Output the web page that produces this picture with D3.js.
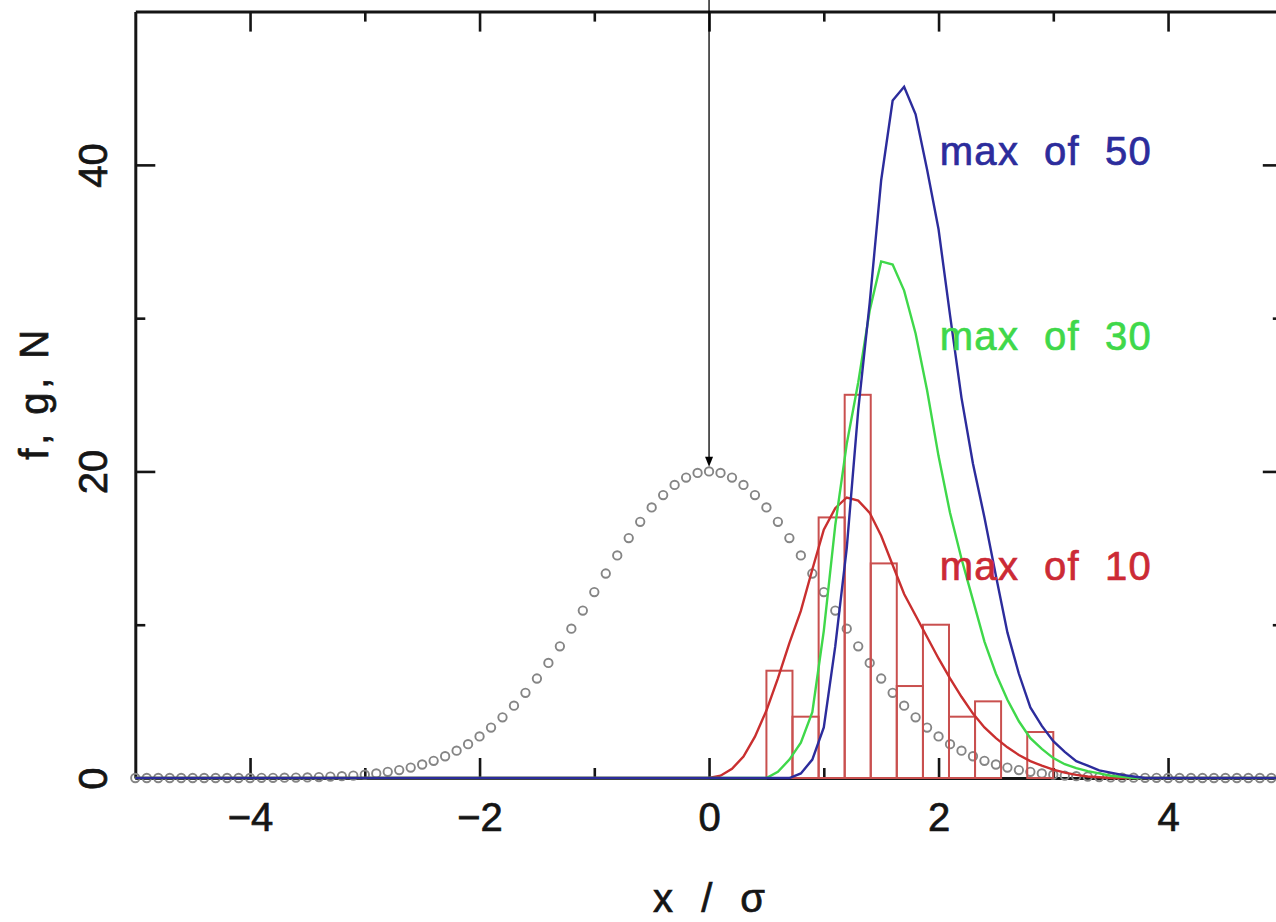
<!DOCTYPE html>
<html>
<head>
<meta charset="utf-8">
<script src="https://cdn.jsdelivr.net/npm/d3@7"></script>
<style>
  html, body { margin: 0; padding: 0; background: #fff; }
  svg { display: block; }
  text { font-family: "Liberation Sans", Arial, Helvetica, sans-serif; }
</style>
</head>
<body>
<svg id="chart" width="1276" height="922"></svg>
<script>
/* max-of-N gaussian plot: f (circles), g curves, N histogram */

// --- data ---
const xMajor = [-4, -2, 0, 2, 4];
const xMinor = [-3, -1, 1, 3];
const yMajor = [0, 20, 40];
const yMinor = [10, 30];

// unit gaussian, 20 at peak, sampled every 0.1 from -5 to 5
const gaussX = d3.range(-50, 51).map(i => i / 10);
const gaussY = [
  0, 0, 0, 0, 0, 0, 0, 0, 0, 0, 0,
  0.01, 0.01, 0.02, 0.03, 0.04, 0.06, 0.09, 0.12, 0.16, 0.22,
  0.30, 0.40, 0.52, 0.68, 0.88, 1.12, 1.42, 1.78, 2.21, 2.71,
  3.29, 3.96, 4.72, 5.56, 6.49, 7.51, 8.59, 9.74, 10.92, 12.13,
  13.34, 14.52, 15.65, 16.71, 17.65, 18.46, 19.12, 19.60, 19.90,
  20.00,
  19.90, 19.60, 19.12, 18.46, 17.65, 16.71, 15.65, 14.52, 13.34,
  12.13, 10.92, 9.74, 8.59, 7.51, 6.49, 5.56, 4.72, 3.96, 3.29,
  2.71, 2.21, 1.78, 1.42, 1.12, 0.88, 0.68, 0.52, 0.40, 0.30,
  0.22, 0.16, 0.12, 0.09, 0.06, 0.04, 0.03, 0.02, 0.01, 0.01,
  0, 0, 0, 0, 0, 0, 0, 0, 0, 0, 0
];

// histogram of max of 10
const binEdges = [0.5, 0.727, 0.955, 1.182, 1.409, 1.636, 1.864, 2.091, 2.318, 2.545, 2.773, 3.0];
const binCounts = [7, 4, 17, 25, 14, 6, 10, 4, 5, 0, 3];

// max of 10
const redX = [-5, 0.0, 0.1, 0.2, 0.3, 0.4, 0.5, 0.6, 0.7, 0.8, 0.9, 1.0, 1.1, 1.2, 1.3, 1.4, 1.5, 1.6, 1.7,
  1.8, 1.9, 2.0, 2.1, 2.2, 2.3, 2.4, 2.5, 2.6, 2.7, 2.8, 2.9, 3.0, 3.1, 3.2, 3.3, 3.4, 3.5, 5];
const redY = [0, 0, 0.15, 0.6, 1.4, 2.7, 4.4, 6.5, 8.8, 10.9, 13.6, 16.2, 17.6, 18.3, 18.1, 17.3, 15.8, 13.9, 12.0,
  10.6, 9.2, 7.8, 6.5, 5.3, 4.2, 3.3, 2.6, 2.0, 1.5, 1.1, 0.8, 0.55, 0.35, 0.2, 0.1, 0.05, 0, 0];

// max of 30
const greenX = [-5, 0.5, 0.6, 0.7, 0.8, 0.9, 1.0, 1.1, 1.2, 1.3, 1.4, 1.5, 1.6, 1.7, 1.8, 1.9, 2.0, 2.1,
  2.2, 2.3, 2.4, 2.5, 2.6, 2.7, 2.8, 2.9, 3.0, 3.1, 3.2, 3.3, 3.4, 3.5, 3.6, 3.7, 5];
const greenY = [0, 0, 0.4, 1.2, 2.3, 4.3, 9.6, 16.5, 21.8, 25.8, 30.5, 33.7, 33.5, 31.8, 29.0, 25.3, 21.0, 17.3,
  14.3, 11.6, 8.9, 6.8, 5.1, 3.7, 2.6, 1.9, 1.3, 0.9, 0.65, 0.45, 0.3, 0.15, 0.08, 0, 0];

// max of 50
const blueX = [-5, 0.7, 0.8, 0.9, 1.0, 1.1, 1.2, 1.3, 1.4, 1.5, 1.6, 1.7, 1.8, 1.9, 2.0, 2.1, 2.2, 2.3,
  2.4, 2.5, 2.6, 2.7, 2.8, 2.9, 3.0, 3.1, 3.2, 3.3, 3.4, 3.5, 3.6, 3.7, 3.8, 5];
const blueY = [0, 0, 0.3, 1.2, 3.3, 8.6, 15.0, 24.0, 31.0, 39.0, 44.2, 45.1, 43.3, 39.7, 35.8, 30.2, 24.8, 20.5,
  17.0, 13.2, 9.5, 6.8, 4.6, 3.4, 2.4, 1.7, 1.1, 0.8, 0.5, 0.35, 0.2, 0.1, 0, 0];

const labelTexts = ['max  of  50', 'max  of  30', 'max  of  10'];

// --- layout ---
const W = 1276, H = 922;
const COL_BLUE = '#2c2c9c', COL_GREEN = '#3fd84a', COL_RED = '#c92f2f', COL_HIST = '#c9504f';
const INK = '#151515';
const FS = 40;

const svg = d3.select('#chart');
const x = d3.scaleLinear().domain([-5, 5]).range([135.3, 1282.8]);
const y = d3.scaleLinear().domain([0, 50]).range([778, 11.6]);

svg.append('rect').attr('width', W).attr('height', H).attr('fill', '#fff');

const fmt = d => d < 0 ? '\u2212' + Math.abs(d) : String(d);

function styleAxis(g) {
  g.attr('font-family', '"Liberation Sans", Arial, sans-serif').attr('font-size', FS);
  g.select('.domain').attr('stroke', INK).attr('stroke-width', 3);
  g.selectAll('.tick line').attr('stroke', INK).attr('stroke-width', 2.6);
  g.selectAll('.tick text').attr('fill', INK).attr('stroke', INK).attr('stroke-width', 0.7);
}

// bottom
svg.append('g')
  .attr('transform', `translate(0,${y(0)})`)
  .call(d3.axisBottom(x).tickValues(xMajor).tickSizeInner(-20).tickSizeOuter(0).tickFormat(fmt))
  .call(styleAxis)
  .call(g => g.selectAll('.tick text').attr('y', 53).attr('dy', 0));
svg.append('g')
  .attr('transform', `translate(0,${y(0)})`)
  .call(d3.axisBottom(x).tickValues(xMinor).tickSizeInner(-10).tickSizeOuter(0).tickFormat(''))
  .call(styleAxis)
  .call(g => g.select('.domain').remove());

// top
svg.append('g')
  .attr('transform', `translate(0,${y(50)})`)
  .call(d3.axisTop(x).tickValues(xMajor).tickSizeInner(-20).tickSizeOuter(0).tickFormat(''))
  .call(styleAxis);
svg.append('g')
  .attr('transform', `translate(0,${y(50)})`)
  .call(d3.axisTop(x).tickValues(xMinor).tickSizeInner(-10).tickSizeOuter(0).tickFormat(''))
  .call(styleAxis)
  .call(g => g.select('.domain').remove());

// left
svg.append('g')
  .attr('transform', `translate(${x(-5)},0)`)
  .call(d3.axisLeft(y).tickValues(yMajor).tickSizeInner(-20).tickSizeOuter(0).tickFormat(fmt))
  .call(styleAxis)
  .call(g => g.selectAll('.tick text')
    .attr('x', 0).attr('y', -28).attr('dy', 0)
    .attr('text-anchor', 'middle')
    .attr('transform', 'rotate(-90)'));
svg.append('g')
  .attr('transform', `translate(${x(-5)},0)`)
  .call(d3.axisLeft(y).tickValues(yMinor).tickSizeInner(-10).tickSizeOuter(0).tickFormat(''))
  .call(styleAxis)
  .call(g => g.select('.domain').remove());

// right
svg.append('g')
  .attr('transform', `translate(${x(5)},0)`)
  .call(d3.axisRight(y).tickValues(yMajor).tickSizeInner(-20).tickSizeOuter(0).tickFormat(''))
  .call(styleAxis);
svg.append('g')
  .attr('transform', `translate(${x(5)},0)`)
  .call(d3.axisRight(y).tickValues(yMinor).tickSizeInner(-10).tickSizeOuter(0).tickFormat(''))
  .call(styleAxis)
  .call(g => g.select('.domain').remove());

// axis titles
svg.append('text')
  .attr('transform', `translate(48,${(y(0) + y(50)) / 2}) rotate(-90)`)
  .attr('text-anchor', 'middle')
  .attr('font-size', FS)
  .attr('fill', INK)
  .attr('stroke', INK)
  .attr('stroke-width', 0.7)
  .attr('textLength', 130)
  .attr('lengthAdjust', 'spacing')
  .text('f, g, N');

svg.append('text')
  .attr('x', x(0))
  .attr('y', 912)
  .attr('text-anchor', 'middle')
  .attr('font-size', FS)
  .attr('fill', INK)
  .attr('stroke', INK)
  .attr('stroke-width', 0.7)
  .attr('textLength', 112)
  .attr('lengthAdjust', 'spacing')
  .text('x / \u03c3');

// gaussian circles
svg.append('g').attr('id', 'gauss')
  .selectAll('circle')
  .data(gaussX.map((v, i) => [v, gaussY[i]]))
  .enter()
  .append('circle')
  .attr('cx', d => x(d[0]))
  .attr('cy', d => y(d[1]))
  .attr('r', 4.2)
  .attr('fill', 'none')
  .attr('stroke', '#858585')
  .attr('stroke-width', 1.9);

// histogram
svg.append('g').attr('id', 'hist')
  .selectAll('rect')
  .data(binCounts.map((c, i) => ({ x0: binEdges[i], x1: binEdges[i + 1], n: c })).filter(d => d.n > 0))
  .enter()
  .append('rect')
  .attr('x', d => x(d.x0))
  .attr('width', d => x(d.x1) - x(d.x0))
  .attr('y', d => y(d.n))
  .attr('height', d => y(0) - y(d.n))
  .attr('fill', 'none')
  .attr('stroke', COL_HIST)
  .attr('stroke-width', 2);

// curves
const line = d3.line().x(d => x(d[0])).y(d => y(d[1]));
const curves = [
  { xs: redX, ys: redY, col: COL_RED },
  { xs: greenX, ys: greenY, col: COL_GREEN },
  { xs: blueX, ys: blueY, col: COL_BLUE },
];
curves.forEach(c => {
  svg.append('path')
    .attr('d', line(c.xs.map((v, i) => [v, c.ys[i]])))
    .attr('fill', 'none')
    .attr('stroke', c.col)
    .attr('stroke-width', 2.4)
    .attr('stroke-linejoin', 'miter');
});

// labels
const labelCols = [COL_BLUE, COL_GREEN, '#cc2a35'];
const labelY = [40.0, 27.9, 12.9];
labelTexts.forEach((t, i) => {
  svg.append('text')
    .attr('x', x(2.01))
    .attr('y', y(labelY[i]))
    .attr('font-size', FS)
    .attr('fill', labelCols[i])
    .attr('stroke', labelCols[i])
    .attr('stroke-width', 0.7)
    .attr('textLength', 211)
    .attr('lengthAdjust', 'spacing')
    .style('white-space', 'pre')
    .text(t);
});

// arrow pointing at the gaussian peak
const arrowTop = 50.76, arrowTip = 20.3;
svg.append('line')
  .attr('x1', x(0)).attr('x2', x(0))
  .attr('y1', y(arrowTop)).attr('y2', y(arrowTip) - 6)
  .attr('stroke', '#000')
  .attr('stroke-width', 1.3);
svg.append('path')
  .attr('d', `M${x(0)},${y(arrowTip)} L${x(0) - 4},${y(arrowTip) - 10} L${x(0) + 4},${y(arrowTip) - 10} Z`)
  .attr('fill', '#000');
</script>
</body>
</html>
